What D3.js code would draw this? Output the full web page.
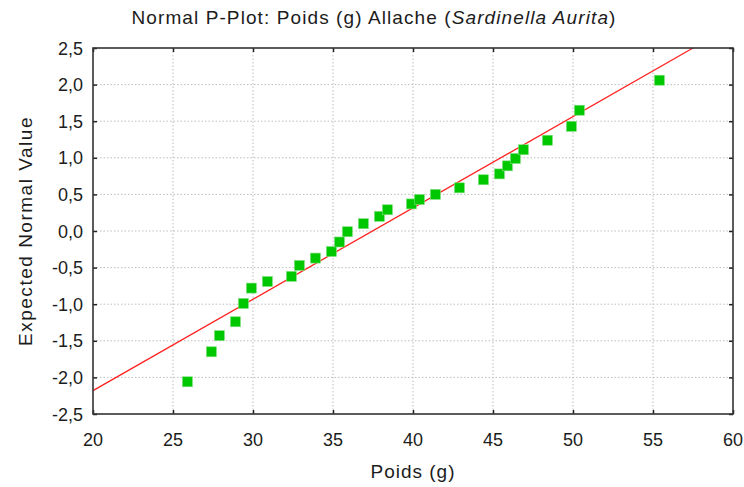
<!DOCTYPE html>
<meta charset='utf-8'>
<title>Normal P-Plot: Poids (g) Allache</title>
<style>
html, body {
  margin: 0;
  padding: 0;
  background: #fff;
}
text {
  font-family: 'Liberation Sans', Arial, sans-serif;
  fill: #1c1c1c;
}
</style>
<script src='https://d3js.org/d3.v7.min.js'></script>
<body>
<svg id='chart' width='744' height='487'></svg>
<script>
// Observed weights (g), sorted
var poids = [25.9, 27.4, 27.9, 28.9, 29.4, 29.9, 30.9, 32.4, 32.9, 33.9,
  34.9, 35.4, 35.9, 36.9, 37.9, 38.4, 39.9, 40.4, 41.4, 42.9,
  44.4, 45.4, 45.9, 46.4, 46.9, 48.4, 49.9, 50.4, 55.4];
// Expected normal values
var expected = [-2.06, -1.65, -1.43, -1.24, -0.99, -0.78, -0.69, -0.62, -0.47, -0.37,
  -0.28, -0.15, -0.01, 0.10, 0.20, 0.29, 0.37, 0.43, 0.50, 0.59,
  0.70, 0.78, 0.89, 0.99, 1.11, 1.24, 1.43, 1.65, 2.06];
// Reference line end points (x, y)
var lineX = [20, 57.5];
var lineY = [-2.18, 2.5];

var xTicks = [20, 25, 30, 35, 40, 45, 50, 55, 60];
var yTicks = [-2.5, -2, -1.5, -1, -0.5, 0, 0.5, 1, 1.5, 2, 2.5];

// plot box (don't call these top/left: window.top is read-only)
var pLeft = 93, pRight = 733, pTop = 48, pBottom = 414;
var fontSize = 18;
var titleSize = 19;
var svg = d3.select('#chart');

var x = d3.scaleLinear().domain([20, 60]).range([pLeft, pRight]);
var y = d3.scaleLinear().domain([-2.5, 2.5]).range([pBottom, pTop]);
var fmtY = function (d) { return d3.format('.1f')(d).replace('.', ',').replace('−', '-'); };

// stretch a label to the width it has in the original (wider font there)
function fitWidth(sel, target) {
  var node = sel.node();
  var w = node.getComputedTextLength();
  var n = node.textContent.length;
  sel.attr('letter-spacing', ((target - w) / n) + 'px');
}

// Grid
svg.append('g').selectAll('line')
  .data(xTicks.slice(1, -1)).enter().append('line')
  .attr('x1', x).attr('x2', x).attr('y1', pTop).attr('y2', pBottom)
  .attr('stroke', '#bdbdbd').attr('stroke-dasharray', '1.5,2');
svg.append('g').selectAll('line')
  .data(yTicks.slice(1, -1)).enter().append('line')
  .attr('y1', y).attr('y2', y).attr('x1', pLeft).attr('x2', pRight)
  .attr('stroke', '#bdbdbd').attr('stroke-dasharray', '1.5,2');

// Reference line
svg.append('line')
  .attr('x1', x(lineX[0])).attr('y1', y(lineY[0]))
  .attr('x2', x(lineX[1])).attr('y2', y(lineY[1]))
  .attr('stroke', '#ff2020').attr('stroke-width', 1.3);

// Points
svg.append('g').selectAll('rect')
  .data(poids).enter().append('rect')
  .attr('x', function (d) { return x(d) - 5; })
  .attr('y', function (d, i) { return y(expected[i]) - 5; })
  .attr('width', 10).attr('height', 10)
  .attr('fill', '#00c800')
  .attr('stroke', '#7ee07e').attr('stroke-width', 0.6);

// Axes (ticks pointing inward on all sides)
svg.append('g').attr('transform', 'translate(0,' + pBottom + ')')
  .call(d3.axisTop(x).tickValues(xTicks).tickSize(4).tickFormat(''));
svg.append('g').attr('transform', 'translate(0,' + pTop + ')')
  .call(d3.axisBottom(x).tickValues(xTicks).tickSize(4).tickFormat(''));
svg.append('g').attr('transform', 'translate(' + pLeft + ',0)')
  .call(d3.axisRight(y).tickValues(yTicks).tickSize(4).tickFormat(''));
svg.append('g').attr('transform', 'translate(' + pRight + ',0)')
  .call(d3.axisLeft(y).tickValues(yTicks).tickSize(4).tickFormat(''));
svg.selectAll('.domain').remove();
svg.selectAll('.tick line').attr('stroke', '#222').attr('stroke-width', 1.5);

// Frame
svg.append('rect')
  .attr('x', pLeft).attr('y', pTop)
  .attr('width', pRight - pLeft).attr('height', pBottom - pTop)
  .attr('fill', 'none').attr('stroke', '#333').attr('stroke-width', 1.6);

// Tick labels
svg.append('g').selectAll('text')
  .data(xTicks).enter().append('text')
  .attr('x', x).attr('y', pBottom + 32)
  .attr('text-anchor', 'middle').attr('font-size', fontSize)
  .text(function (d) { return d; });
svg.append('g').selectAll('text')
  .data(yTicks).enter().append('text')
  .attr('x', pLeft - 10).attr('y', function (d) { return y(d) + 6.5; })
  .attr('text-anchor', 'end').attr('font-size', fontSize)
  .text(fmtY);

// Titles
var title = svg.append('text')
  .attr('x', 374).attr('y', 24)
  .attr('text-anchor', 'middle').attr('font-size', titleSize);
title.append('tspan').text('Normal P-Plot: Poids (g) Allache (');
title.append('tspan').attr('font-style', 'italic').text('Sardinella Aurita');
title.append('tspan').text(')');
fitWidth(title, 485);

var xTitle = svg.append('text')
  .attr('x', 413).attr('y', 478)
  .attr('text-anchor', 'middle').attr('font-size', titleSize)
  .text('Poids (g)');
fitWidth(xTitle, 85);

var yTitle = svg.append('text')
  .attr('transform', 'translate(32,' + ((pTop + pBottom) / 2) + ')rotate(-90)')
  .attr('text-anchor', 'middle').attr('font-size', titleSize)
  .text('Expected Normal Value');
fitWidth(yTitle, 230);
</script>
</body>
